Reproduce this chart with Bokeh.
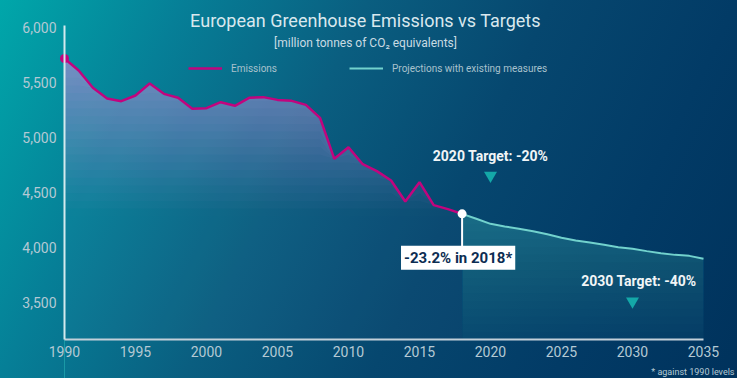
import numpy as np
from bokeh.plotting import figure
from bokeh.models import (Label, Legend, LegendItem, NumeralTickFormatter,
                          FixedTicker, Range1d)
from bokeh.embed import file_html
from bokeh.resources import INLINE

# ---------------- data ----------------
years_hist = list(range(1990, 2019))
emissions = [5718, 5609, 5452, 5355, 5330, 5382, 5491, 5397, 5361, 5261,
             5267, 5321, 5288, 5361, 5367, 5342, 5333, 5297, 5179, 4806,
             4912, 4757, 4694, 4609, 4418, 4594, 4385, 4349, 4306]
years_proj = list(range(2018, 2036))
projections = [4306, 4261, 4215, 4191, 4170, 4148, 4121, 4088, 4064, 4045,
               4024, 4003, 3988, 3967, 3948, 3933, 3924, 3897]
x_ticks = [1990, 1995, 2000, 2005, 2010, 2015, 2020, 2025, 2030, 2035]
y_ticks = [3500, 4000, 4500, 5000, 5500, 6000]
target_years = [2020, 2030]
target_values = [4655, 3512]
target_label_x = [2020.0, 2030.45]
target_label_y = [4836, 3691]
target_labels = ["2020 Target: -20%", "2030 Target: -40%"]
callout_text = "-23.2% in 2018*"
callout_x, callout_y = 2017.72, 3906
title_text = "European Greenhouse Emissions vs Targets"
subtitle_text = "[million tonnes of CO\u2082 equivalents]"
footnote_text = "* against 1990 levels"
legend_labels = ["Emissions", "Projections with existing measures"]

# ---------------- layout ----------------
W, H = 737, 378
PX_YEAR = 14.2        # px per year
PX_UNIT = 0.11        # px per Mt
X0_PX, Y6000_PX, AXIS_PX = 64, 27, 339
x_start = 1990 - X0_PX / PX_YEAR
x_end = 1990 + (W - X0_PX) / PX_YEAR
y_end = 6000 + Y6000_PX / PX_UNIT
y_start = 6000 - (H - Y6000_PX) / PX_UNIT
Y_AXIS = 6000 - (AXIS_PX - Y6000_PX) / PX_UNIT
Y_TOP = 6000 + 2 / PX_UNIT

FONT = "Roboto"
MAGENTA = "#c2047e"
TEAL_LINE = "#72d2cd"

p = figure(width=W, height=H, x_range=Range1d(x_start, x_end),
           y_range=Range1d(y_start, y_end), output_backend="svg",
           toolbar_location=None, title=None,
           min_border_left=0, min_border_right=0,
           min_border_top=0, min_border_bottom=0)
p.border_fill_alpha = 0
p.background_fill_alpha = 0
p.outline_line_color = None
p.grid.visible = False
p.styles = {"background": "linear-gradient(116deg, #00a7aa 0%, #067f97 20%, "
                          "#0a5e80 40%, #06476f 60%, #023b66 80%, #00325c 100%)"}

# axes (drawn at fixed positions inside the canvas)
p.xaxis.fixed_location = Y_AXIS
p.yaxis.fixed_location = years_hist[0]
p.xaxis.bounds = (x_ticks[0], x_ticks[-1])
p.yaxis.bounds = (Y_AXIS, Y_TOP)
p.xaxis.ticker = FixedTicker(ticks=x_ticks)
p.yaxis.ticker = FixedTicker(ticks=y_ticks)
p.yaxis.formatter = NumeralTickFormatter(format="0,0")
for ax in (p.xaxis, p.yaxis):
    ax.major_tick_line_color = None
    ax.minor_tick_line_color = None
    ax.major_tick_out = 0
    ax.major_tick_in = 0
    ax.minor_tick_out = 0
    ax.major_label_text_color = "#b4c9d4"
    ax.major_label_text_font = FONT
    ax.major_label_text_font_size = "14px"
    ax.axis_line_width = 2
p.yaxis.axis_line_color = "#d3eaee"
p.xaxis.axis_line_color = "#c3d0d9"
p.yaxis.major_label_standoff = 8
p.xaxis.major_label_standoff = 6

# thin guide below the x axis at 1990
p.segment(x0=[years_hist[0]], y0=[Y_AXIS], x1=[years_hist[0]], y1=[y_start],
          line_color="#1fa3ab", line_width=1, line_alpha=0.8)

# gradient fills (stacked translucent layers)
em = np.array(emissions, dtype=float)
pr = np.array(projections, dtype=float)


def layered_fill(xs, ys, color, alpha_fn, step=70):
    prev = 0.0
    levels = np.arange(Y_AXIS, ys.max(), step)
    for lo in levels:
        target = alpha_fn(lo + step / 2)
        a = 1 - (1 - target) / (1 - prev) if target > prev else 0.0
        if a > 0.001:
            p.varea(x=xs, y1=np.minimum(lo, ys), y2=ys,
                    fill_color=color, fill_alpha=a)
            prev = target


layered_fill(years_hist, em, (150, 145, 208),
             lambda y: 0.04 + 0.78 * np.clip((y - 4300) / 1400, 0, 1))
layered_fill(years_proj, pr, (92, 196, 204),
             lambda y: 0.05 + 0.27 * np.clip((y - 3160) / 1100, 0, 1))

# lines
proj_line = p.line(years_proj, projections, line_color=TEAL_LINE, line_width=2)
em_line = p.line(years_hist, emissions, line_color=MAGENTA, line_width=2.5)

# callout connector + dots
p.segment(x0=[years_hist[-1]], y0=[emissions[-1]], x1=[years_hist[-1]],
          y1=[callout_y + 90], line_color="white", line_width=2)
p.scatter([years_hist[0]], [emissions[0]], size=9, fill_color=MAGENTA,
          line_color=None)
p.scatter([years_hist[-1]], [emissions[-1]], size=9, fill_color="white",
          line_color=None)

# targets
p.scatter(target_years, target_values, marker="inverted_triangle", size=13,
          fill_color="#14a8a8", line_color=None)
for tx, ty, tt in zip(target_label_x, target_label_y, target_labels):
    p.add_layout(Label(x=tx, y=ty, text=tt, text_align="center",
                       text_baseline="middle", text_color="#f1f5f7",
                       text_font=FONT, text_font_style="bold",
                       text_font_size="14px"))

p.add_layout(Label(x=callout_x, y=callout_y, text=callout_text,
                   text_align="center", text_baseline="middle",
                   text_color="#0c2d52", text_font=FONT,
                   text_font_style="bold", text_font_size="15px",
                   background_fill_color="white", padding=3))

# title / subtitle / footnote (screen units, origin bottom-left)
p.add_layout(Label(x=365, y=H - 20, x_units="screen", y_units="screen",
                   text=title_text, text_align="center", text_baseline="middle",
                   text_color="#d9e8ee", text_font=FONT, text_font_size="18px"))
p.add_layout(Label(x=365, y=H - 42, x_units="screen", y_units="screen",
                   text=subtitle_text, text_align="center",
                   text_baseline="middle", text_color="#c9dbe3",
                   text_font=FONT, text_font_size="12px"))
p.add_layout(Label(x=734, y=H - 371, x_units="screen", y_units="screen",
                   text=footnote_text, text_align="right",
                   text_baseline="middle", text_color="#b4c9d4",
                   text_font=FONT, text_font_size="9px"))

legend = Legend(items=[LegendItem(label=legend_labels[0], renderers=[em_line]),
                       LegendItem(label=legend_labels[1], renderers=[proj_line])],
                orientation="horizontal", location=(188, H - 68 - 8),
                glyph_width=34, glyph_height=16, label_height=16,
                label_standoff=9, spacing=72, padding=0, margin=0,
                border_line_alpha=0, background_fill_alpha=0,
                label_text_font=FONT, label_text_font_size="10px",
                label_text_color="#a9c2cd")
p.add_layout(legend)

open("out.html", "w").write(file_html(p, INLINE))
